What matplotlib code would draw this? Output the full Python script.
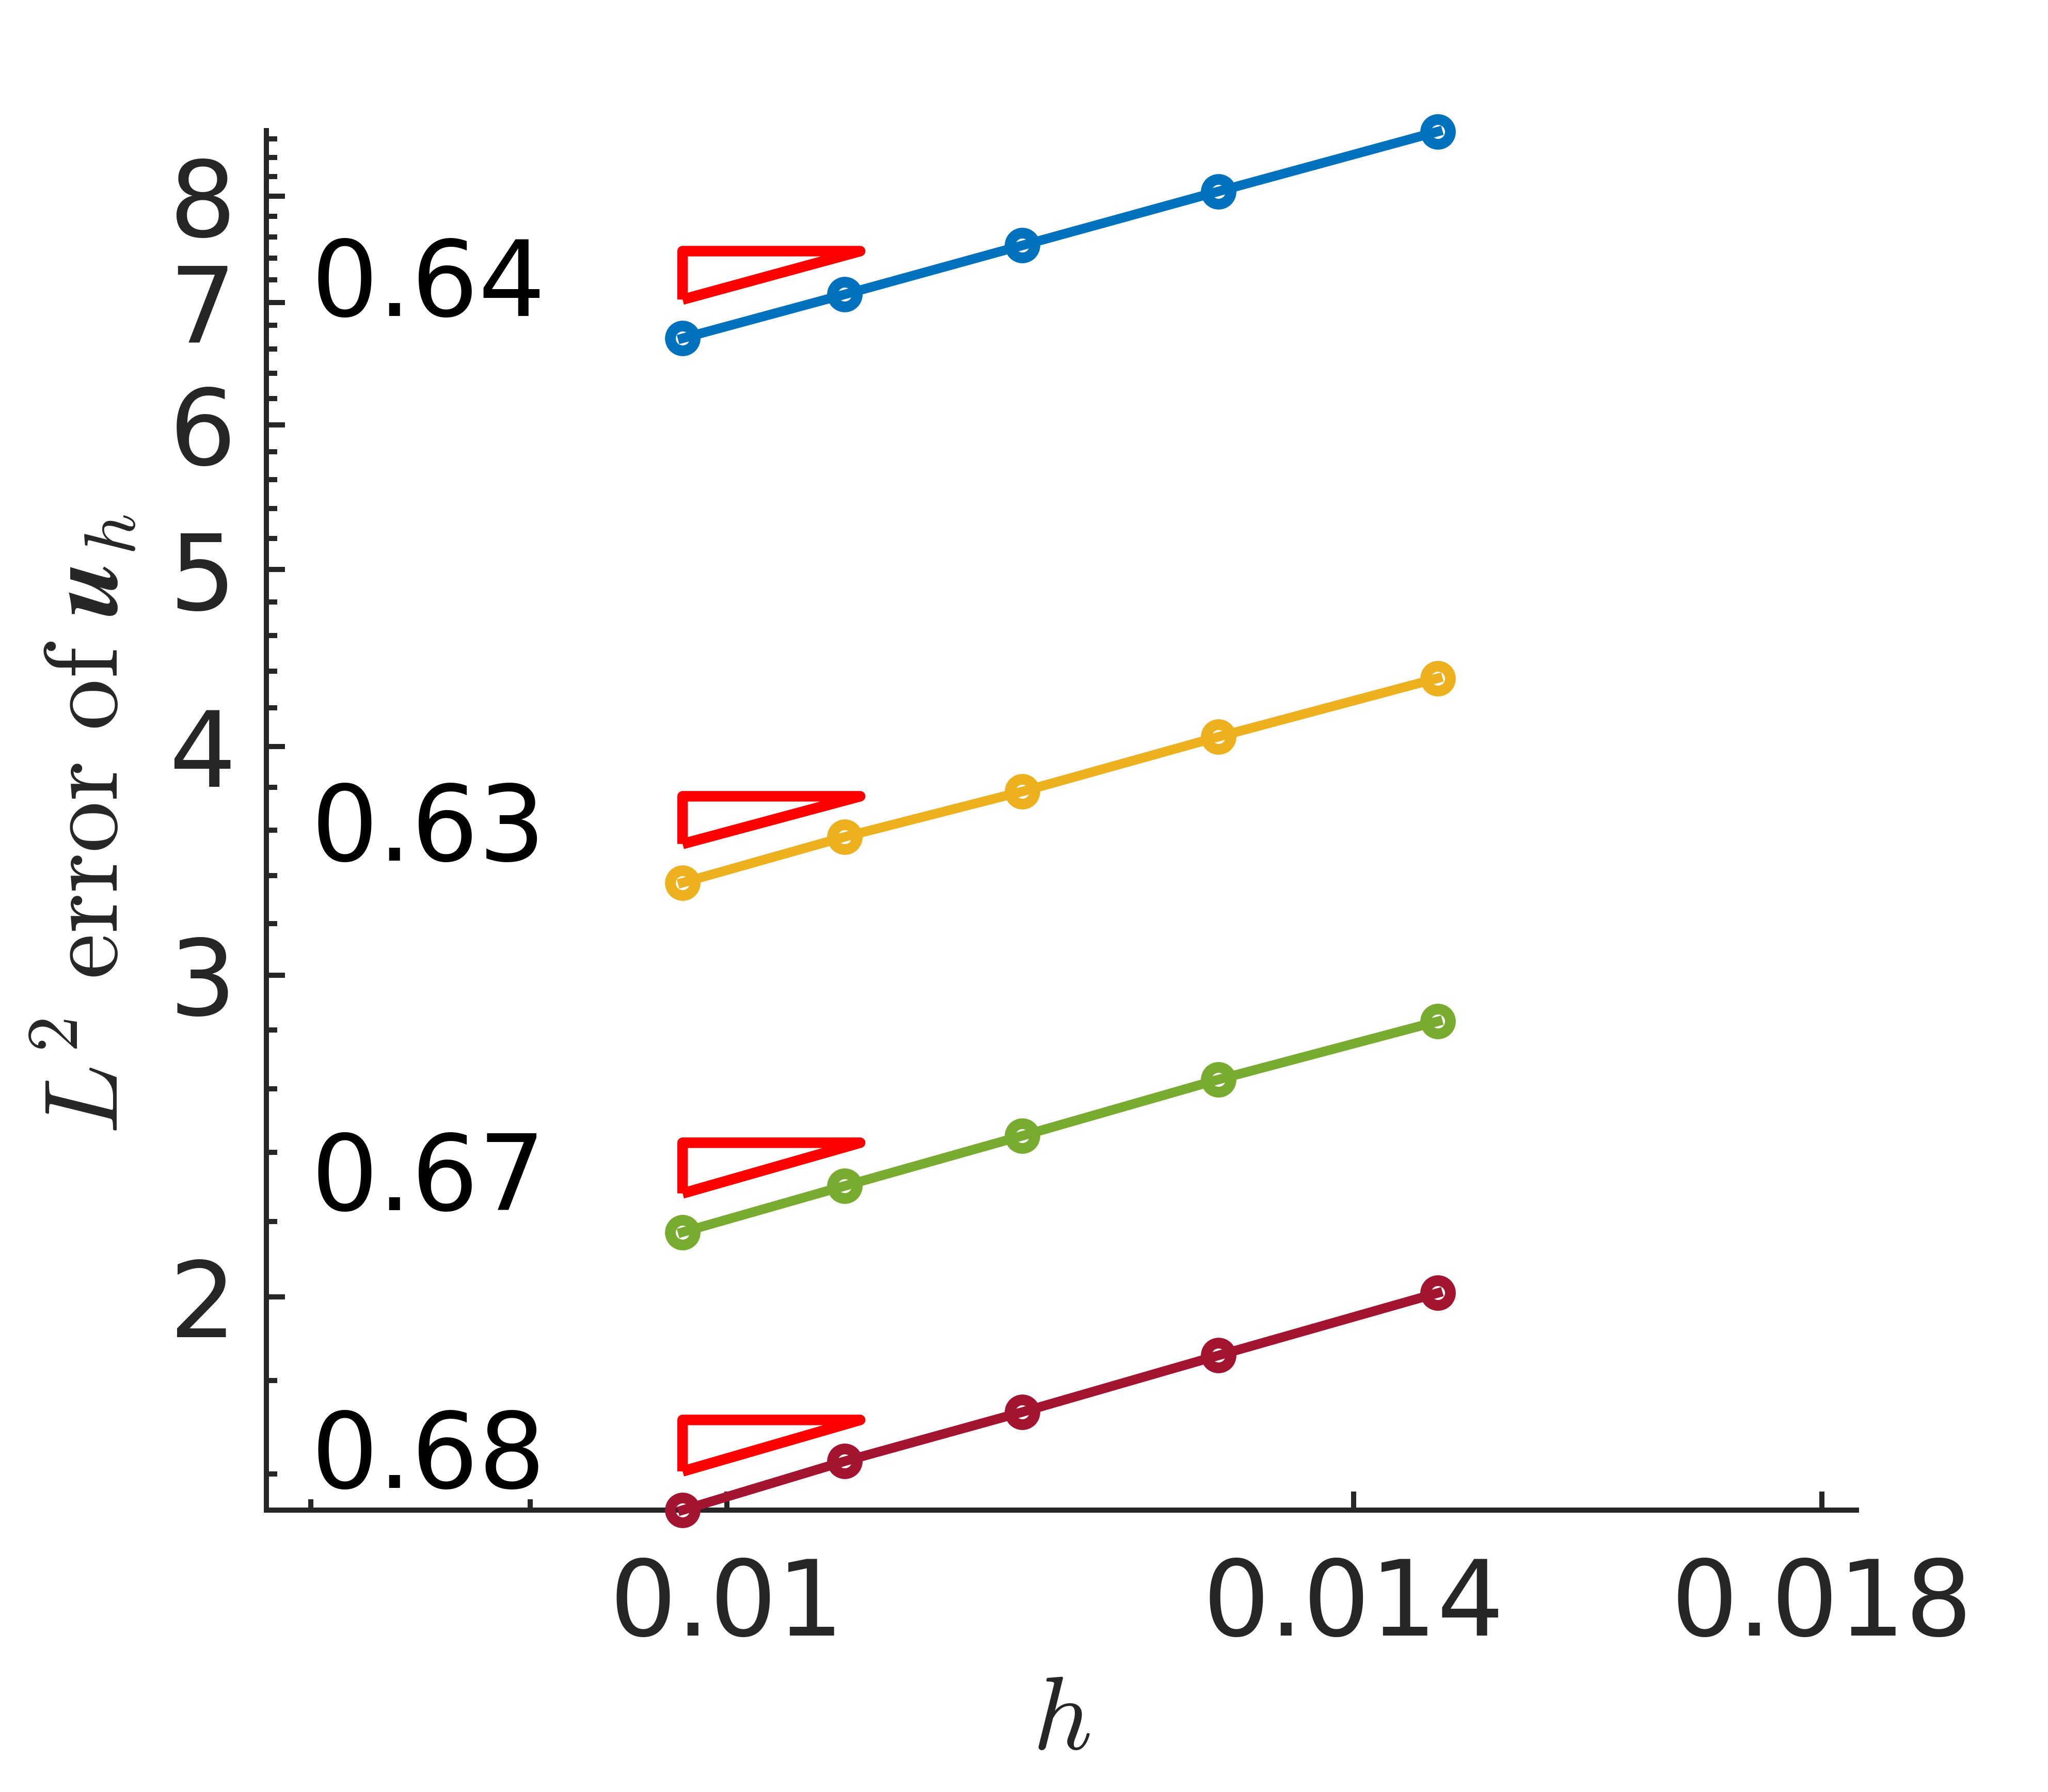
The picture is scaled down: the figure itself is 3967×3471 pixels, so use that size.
import numpy as np
import matplotlib
matplotlib.use('Agg')
import matplotlib.pyplot as plt
from matplotlib.ticker import NullFormatter

plt.rcParams['font.family'] = 'DejaVu Sans'
plt.rcParams['mathtext.fontset'] = 'cm'

# mesh size and L2 errors
h = [0.009766, 0.010653, 0.011719, 0.013021, 0.014648]
err_blue = [6.69, 7.07, 7.52, 8.05, 8.68]
err_yellow = [3.37, 3.57, 3.78, 4.05, 4.36]
err_green = [2.17, 2.30, 2.45, 2.63, 2.83]
err_red = [1.529, 1.626, 1.730, 1.858, 2.010]
rates = [0.64, 0.63, 0.67, 0.68]

series = [err_blue, err_yellow, err_green, err_red]
colors = ['#0072BD', '#EDB120', '#77AC30', '#A2142F']

xticks = [0.01, 0.014, 0.018]
xtick_labels = ['0.01', '0.014', '0.018']
xminor = [0.008, 0.009]
yticks = [2, 3, 4, 5, 6, 7, 8]
ytick_labels = ['2', '3', '4', '5', '6', '7', '8']
yminor = [v for v in np.round(np.arange(1.6, 8.61, 0.2), 1) if v not in yticks]

grey = '#262626'

fig = plt.figure(figsize=(3967 / 300, 3471 / 300), dpi=300)
ax = fig.add_axes([0.1300, 0.1573, 0.7765, 0.7698])
ax.set_xscale('log')
ax.set_yscale('log')

for err, c, r in zip(series, colors, rates):
    ax.plot(h, err, '-o', color=c, lw=4.4, ms=11.5, mew=5, mfc='none',
            clip_on=False, zorder=3)
    # slope triangle next to the first point
    x0, x1 = h[0], h[0] * 1.1
    y0 = err[0] * 1.05
    y1 = y0 * 1.1 ** r
    ax.plot([x0, x0, x1, x0], [y0, y1, y1, y0], color='#FF0000', lw=4.9,
            solid_joinstyle='round', solid_capstyle='butt', zorder=2)
    ax.text(0.008, y0 / 1.021, f'{r:.2f}', fontsize=49, color='black',
            ha='left', va='baseline')

ax.set_xlim(0.00781, 0.01834)
ax.set_ylim(1.529, 8.69)

ax.set_xticks(xticks, xtick_labels)
ax.set_xticks(xminor, minor=True)
ax.set_yticks(yticks, ytick_labels)
ax.set_yticks(yminor, minor=True)
ax.xaxis.set_minor_formatter(NullFormatter())
ax.yaxis.set_minor_formatter(NullFormatter())

ax.tick_params(which='both', direction='in', width=2.4, color=grey,
               labelcolor=grey, labelsize=49)
ax.tick_params(which='major', length=8.6)
ax.tick_params(which='minor', length=5)
ax.tick_params(axis='x', pad=21)
ax.tick_params(axis='y', pad=14)

ax.spines[['top', 'right']].set_visible(False)
for s in ['left', 'bottom']:
    ax.spines[s].set_linewidth(2.4)
    ax.spines[s].set_color(grey)

ax.set_xlabel(r'$h$', fontsize=48, color=grey)
ax.xaxis.set_label_coords(0.5, -0.1527)
ax.xaxis.label.set_va('center')
ax.set_ylabel(r'$L^2\ \mathrm{error\ of}\ \boldsymbol{u}_h$', fontsize=48, color=grey)
ax.yaxis.set_label_coords(-0.1138, 0.497)
ax.yaxis.label.set_va('center')

fig.savefig('out.png', dpi=300)
